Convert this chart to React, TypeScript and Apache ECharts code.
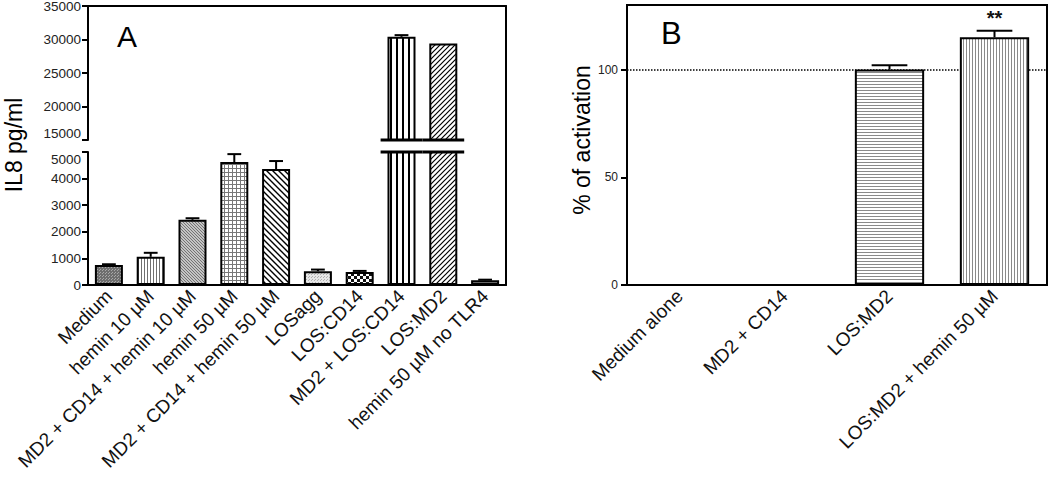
import React, { useEffect, useRef } from 'react';
import * as echarts from 'echarts';

// ---------- Data ----------
const categoriesA = [
  'Medium',
  'hemin 10 µM',
  'MD2 + CD14 + hemin 10 µM',
  'hemin 50 µM',
  'MD2 + CD14 + hemin 50 µM',
  'LOSagg',
  'LOS:CD14',
  'MD2 + LOS:CD14',
  'LOS:MD2',
  'hemin 50 µM no TLR4',
];
const valuesA = [750, 1060, 2450, 4620, 4360, 520, 490, 30400, 29400, 180];
const errorsA = [30, 150, 60, 300, 300, 60, 40, 250, 0, 20];
const ticksUpperA = [15000, 20000, 25000, 30000, 35000];
const ticksLowerA = [0, 1000, 2000, 3000, 4000, 5000];

const categoriesB = ['Medium alone', 'MD2 + CD14', 'LOS:MD2', 'LOS:MD2 + hemin 50 µM'];
const valuesB = [0, 0, 100, 115];
const errorsB = [0, 0, 2, 3];
const significanceB = ['', '', '', '**'];
const ticksB = [0, 50, 100];
const maxB = 130;
const referenceLineB = 100;

const FONT = 'Liberation Sans, Arial, Helvetica, sans-serif';

// ---------- Patterns ----------
type Draw = (ctx: CanvasRenderingContext2D, s: number) => void;
function pattern(size: number, bg: string, draw?: Draw) {
  const c = document.createElement('canvas');
  c.width = size;
  c.height = size;
  const ctx = c.getContext('2d') as CanvasRenderingContext2D;
  ctx.fillStyle = bg;
  ctx.fillRect(0, 0, size, size);
  if (draw) draw(ctx, size);
  return { image: c, repeat: 'repeat', imageWidth: size, imageHeight: size };
}
const vLines = (color: string, w: number): Draw => (ctx, s) => {
  ctx.fillStyle = color;
  ctx.fillRect(0, 0, w, s);
};
const hLines = (color: string, w: number): Draw => (ctx, s) => {
  ctx.fillStyle = color;
  ctx.fillRect(0, 0, s, w);
};
const gridLines = (color: string): Draw => (ctx, s) => {
  ctx.fillStyle = color;
  ctx.fillRect(0, 0, s, 1);
  ctx.fillRect(0, 0, 1, s);
};
const diag = (color: string, w: number, dir: number): Draw => (ctx, s) => {
  ctx.strokeStyle = color;
  ctx.lineWidth = w;
  ctx.beginPath();
  if (dir > 0) {
    ctx.moveTo(0, s); ctx.lineTo(s, 0);
    ctx.moveTo(-2, 2); ctx.lineTo(2, -2);
    ctx.moveTo(s - 2, s + 2); ctx.lineTo(s + 2, s - 2);
  } else {
    ctx.moveTo(0, 0); ctx.lineTo(s, s);
    ctx.moveTo(-2, s - 2); ctx.lineTo(2, s + 2);
    ctx.moveTo(s - 2, -2); ctx.lineTo(s + 2, 2);
  }
  ctx.stroke();
};
const dots = (color: string, pts: number[][]): Draw => (ctx) => {
  ctx.fillStyle = color;
  pts.forEach((p) => ctx.fillRect(p[0], p[1], 1, 1));
};
const checker = (color: string): Draw => (ctx, s) => {
  ctx.fillStyle = color;
  const h = s / 2;
  ctx.fillRect(0, 0, h, h);
  ctx.fillRect(h, h, h, h);
};

function makeFillsA() {
  return [
    pattern(3, '#6e6e6e', dots('#a8a8a8', [[0, 0], [1, 2]])),
    pattern(3, '#ffffff', vLines('#707070', 1)),
    pattern(3, '#c4c4c4', diag('#6a6a6a', 0.9, -1)),
    pattern(4, '#ffffff', gridLines('#777777')),
    pattern(6, '#ffffff', diag('#000000', 1.4, -1)),
    pattern(3, '#e6e6e6', dots('#b0b0b0', [[0, 0], [2, 1]])),
    pattern(6, '#ffffff', checker('#111111')),
    pattern(6, '#ffffff', vLines('#000000', 2)),
    pattern(5, '#ffffff', diag('#000000', 1.2, 1)),
    '#8a8a8a',
  ];
}
function makeFillsB() {
  return [
    '#ffffff',
    '#ffffff',
    pattern(3, '#ffffff', hLines('#8a8a8a', 1)),
    pattern(3, '#ffffff', vLines('#8a8a8a', 1)),
  ];
}

// ---------- helpers ----------
function errorBars(
  xAxisIndex: number,
  yAxisIndex: number,
  data: number[][],
  capFrac: number,
  lineWidth: number,
  labels?: string[],
) {
  return {
    type: 'custom',
    xAxisIndex,
    yAxisIndex,
    z: 6,
    silent: true,
    data,
    encode: { x: 0, y: 1 },
    renderItem: (params: any, api: any) => {
      const i = api.value(0);
      const v = api.value(1);
      const e = api.value(2);
      const base = api.coord([i, v]);
      const top = api.coord([i, v + e]);
      const half = (api.size([1, 0])[0] * capFrac) / 2;
      const children: any[] = [];
      if (e > 0) {
        children.push({
          type: 'line',
          shape: { x1: base[0], y1: base[1], x2: top[0], y2: top[1] },
          style: { stroke: '#000', lineWidth },
        });
        children.push({
          type: 'line',
          shape: { x1: top[0] - half, y1: top[1], x2: top[0] + half, y2: top[1] },
          style: { stroke: '#000', lineWidth },
        });
      }
      const lbl = labels ? labels[i] : '';
      if (lbl) {
        children.push({
          type: 'text',
          x: top[0],
          y: top[1] - 3,
          style: {
            text: lbl,
            fill: '#111',
            font: `bold 20px ${FONT}`,
            textAlign: 'center',
            textVerticalAlign: 'bottom',
          },
        });
      }
      return { type: 'group', children };
    },
  };
}

function breakLine(xAxisIndex: number, yAxisIndex: number, data: number[][]) {
  return {
    type: 'custom',
    xAxisIndex,
    yAxisIndex,
    z: 8,
    silent: true,
    clip: false,
    data,
    encode: { x: 0, y: 1 },
    renderItem: (params: any, api: any) => {
      const p = api.coord([api.value(0), api.value(1)]);
      const band = api.size([1, 0])[0];
      return {
        type: 'line',
        shape: { x1: p[0] - band * 0.5, y1: p[1], x2: p[0] + band * 0.5, y2: p[1] },
        style: { stroke: '#000', lineWidth: 3 },
      };
    },
  };
}

const axisLineStyle = { color: '#000', width: 2 };
const plain = (v: number) => String(v);
const catLabel = { color: '#111', fontSize: 19, fontFamily: FONT, rotate: 45, interval: 0, margin: 8 };

export default function App() {
  const ref = useRef<HTMLDivElement>(null);

  useEffect(() => {
    if (!ref.current) return;
    const chart = echarts.init(ref.current, null, { renderer: 'svg' });
    const fillsA = makeFillsA();
    const fillsB = makeFillsB();

    const upperMin = ticksUpperA[0];
    const upperMax = ticksUpperA[ticksUpperA.length - 1];
    const lowerMin = ticksLowerA[0];
    const lowerMax = ticksLowerA[ticksLowerA.length - 1];

    const lowerBars = valuesA.map((v, i) => ({
      value: v,
      itemStyle: { color: fillsA[i] },
    }));
    const upperBars = valuesA.map((v, i) =>
      v > upperMin ? { value: v, itemStyle: { color: fillsA[i] } } : '-',
    );
    const lowerErr = valuesA
      .map((v, i) => [i, v, errorsA[i]])
      .filter((d) => d[1] <= lowerMax);
    const upperErr = valuesA
      .map((v, i) => [i, v, errorsA[i]])
      .filter((d) => d[1] >= upperMin);
    const brokenIdx = valuesA.map((v, i) => i).filter((i) => valuesA[i] > lowerMax);

    const barsB = valuesB.map((v, i) => ({ value: v, itemStyle: { color: fillsB[i] } }));

    const gridBase = { outerBoundsMode: 'none', containLabel: false };

    const option: any = {
      animation: false,
      backgroundColor: '#fff',
      textStyle: { fontFamily: FONT },
      grid: [
        { ...gridBase, left: 88, top: 6, width: 418, height: 134 }, // A upper
        { ...gridBase, left: 88, top: 152, width: 418, height: 133 }, // A lower
        { ...gridBase, left: 88, top: 6, width: 418, height: 279 }, // A frame
        {
          ...gridBase,
          left: 627,
          top: 5,
          width: 420,
          height: 280,
          show: true,
          borderColor: '#000',
          borderWidth: 2,
          backgroundColor: 'transparent',
        }, // B
      ],
      xAxis: [
        { gridIndex: 0, type: 'category', data: categoriesA, show: false },
        {
          gridIndex: 1,
          type: 'category',
          data: categoriesA,
          axisLine: { lineStyle: axisLineStyle },
          axisTick: { alignWithLabel: true, length: 5, lineStyle: { width: 2, color: '#000' } },
          axisLabel: catLabel,
        },
        {
          gridIndex: 2,
          type: 'category',
          data: categoriesA,
          position: 'top',
          axisLine: { onZero: false, lineStyle: axisLineStyle },
          axisTick: { show: false },
          axisLabel: { show: false },
        },
        {
          gridIndex: 3,
          type: 'category',
          data: categoriesB,
          axisLine: { lineStyle: axisLineStyle },
          axisTick: { alignWithLabel: true, length: 5, lineStyle: { width: 2, color: '#000' } },
          axisLabel: catLabel,
        },
      ],
      yAxis: [
        {
          gridIndex: 0,
          type: 'value',
          min: upperMin,
          max: upperMax,
          interval: ticksUpperA[1] - ticksUpperA[0],
          axisLine: { show: true, lineStyle: axisLineStyle },
          axisTick: { show: true, length: 6, lineStyle: { width: 2, color: '#000' } },
          axisLabel: {
            color: '#222',
            fontSize: 13.5,
            fontFamily: FONT,
            margin: 7,
            formatter: plain,
            verticalAlignMinLabel: 'bottom',
          },
          splitLine: { show: false },
        },
        {
          gridIndex: 1,
          type: 'value',
          min: lowerMin,
          max: lowerMax,
          interval: ticksLowerA[1] - ticksLowerA[0],
          axisLine: { show: true, lineStyle: axisLineStyle },
          axisTick: { show: true, length: 6, lineStyle: { width: 2, color: '#000' } },
          axisLabel: {
            color: '#222',
            fontSize: 13.5,
            fontFamily: FONT,
            margin: 7,
            formatter: plain,
            verticalAlignMaxLabel: 'top',
          },
          splitLine: { show: false },
        },
        {
          gridIndex: 2,
          type: 'value',
          position: 'right',
          min: 0,
          max: 1,
          axisLine: { show: true, onZero: false, lineStyle: axisLineStyle },
          axisTick: { show: false },
          axisLabel: { show: false },
          splitLine: { show: false },
        },
        {
          gridIndex: 3,
          type: 'value',
          min: 0,
          max: maxB,
          interval: ticksB[1] - ticksB[0],
          axisLine: { show: true, lineStyle: axisLineStyle },
          axisTick: { show: true, length: 6, customValues: ticksB, lineStyle: { width: 2, color: '#000' } },
          axisLabel: { color: '#222', fontSize: 12, fontFamily: FONT, margin: 9, customValues: ticksB },
          splitLine: { show: false },
        },
      ],
      series: [
        {
          type: 'bar',
          xAxisIndex: 0,
          yAxisIndex: 0,
          data: upperBars,
          barWidth: '67%',
          clip: true,
          z: 3,
          itemStyle: { borderColor: '#000', borderWidth: 2 },
          silent: true,
        },
        {
          type: 'bar',
          xAxisIndex: 1,
          yAxisIndex: 1,
          data: lowerBars,
          barWidth: '67%',
          clip: true,
          z: 3,
          itemStyle: { borderColor: '#000', borderWidth: 2 },
          silent: true,
        },
        errorBars(0, 0, upperErr, 0.33, 2),
        errorBars(1, 1, lowerErr, 0.33, 2),
        breakLine(0, 0, brokenIdx.map((i) => [i, upperMin])),
        breakLine(1, 1, brokenIdx.map((i) => [i, lowerMax])),
        {
          type: 'bar',
          xAxisIndex: 3,
          yAxisIndex: 3,
          data: barsB,
          barWidth: '66%',
          z: 3,
          itemStyle: { borderColor: '#000', borderWidth: 2 },
          silent: true,
          markLine: {
            silent: true,
            symbol: 'none',
            z: 1,
            label: { show: false },
            lineStyle: { type: 'dotted', color: '#000', width: 1.5 },
            data: [{ yAxis: referenceLineB }],
          },
        },
        errorBars(3, 3, valuesB.map((v, i) => [i, v, errorsB[i]]), 0.34, 2, significanceB),
      ],
      graphic: [
        {
          type: 'text',
          left: 117,
          top: 21,
          style: { text: 'A', font: `30px ${FONT}`, fill: '#000' },
        },
        {
          type: 'text',
          left: 661,
          top: 18,
          style: { text: 'B', font: `31px ${FONT}`, fill: '#000' },
        },
        {
          type: 'text',
          x: 14,
          y: 145,
          rotation: Math.PI / 2,
          style: {
            text: 'IL8 pg/ml',
            font: `23px ${FONT}`,
            fill: '#000',
            textAlign: 'center',
            textVerticalAlign: 'middle',
          },
        },
        {
          type: 'text',
          x: 582,
          y: 140,
          rotation: Math.PI / 2,
          style: {
            text: '% of activation',
            font: `23px ${FONT}`,
            fill: '#000',
            textAlign: 'center',
            textVerticalAlign: 'middle',
          },
        },
      ],
    };

    chart.setOption(option);
    return () => chart.dispose();
  }, []);

  return (
    <div
      ref={ref}
      style={{ position: 'absolute', left: 0, top: 0, width: 1050, height: 480 }}
    />
  );
}
